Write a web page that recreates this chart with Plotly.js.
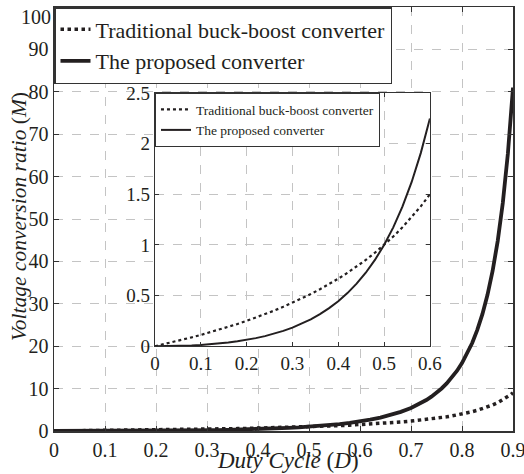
<!DOCTYPE html>
<html>
<head>
<meta charset="utf-8">
<script src="https://cdn.plot.ly/plotly-3.0.1.min.js"></script>
<style>html,body{margin:0;padding:0;background:#fff;}#chart{width:524px;height:474px;}</style>
</head>
<body>
<div id="chart"></div>
<script>
const dutyCycle = [0,0.02,0.04,0.06,0.08,0.1,0.12,0.14,0.16,0.18,0.2,0.22,0.24,0.26,0.28,0.3,0.32,0.34,0.36,0.38,0.4,0.42,0.44,0.46,0.48,0.5,0.52,0.54,0.56,0.58,0.6,0.62,0.64,0.66,0.68,0.7,0.71,0.72,0.73,0.74,0.75,0.76,0.77,0.78,0.79,0.8,0.81,0.82,0.83,0.84,0.85,0.86,0.87,0.88,0.89,0.895,0.9];
const traditional = [0,0.0204,0.0417,0.0638,0.087,0.1111,0.1364,0.1628,0.1905,0.2195,0.25,0.2821,0.3158,0.3514,0.3889,0.4286,0.4706,0.5152,0.5625,0.6129,0.6667,0.7241,0.7857,0.8519,0.9231,1,1.0833,1.1739,1.2727,1.381,1.5,1.6316,1.7778,1.9412,2.125,2.3333,2.4483,2.5714,2.7037,2.8462,3,3.1667,3.3478,3.5455,3.7619,4,4.2632,4.5556,4.8824,5.25,5.6667,6.1429,6.6923,7.3333,8.0909,8.5238,9];
const proposed = [0,0.0004,0.0017,0.0041,0.0076,0.0123,0.0186,0.0265,0.0363,0.0482,0.0625,0.0796,0.0997,0.1234,0.1512,0.1837,0.2215,0.2654,0.3164,0.3757,0.4444,0.5244,0.6173,0.7257,0.8521,1,1.1736,1.3781,1.6198,1.907,2.25,2.6621,3.1605,3.7682,4.5156,5.4444,5.994,6.612,7.31,8.101,9,10.028,11.208,12.57,14.152,16,18.175,20.753,23.84,27.5625,32.11,37.735,44.79,53.778,65.46,72.655,81];
const insetX = dutyCycle.filter(d => d <= 0.6);
const n = insetX.length;
const seriesNames = ['Traditional buck-boost converter', 'The proposed converter'];
const xTitle = '<i>Duty Cycle</i> (<i>D</i>)';
const yTitle = '<i>Voltage conversion ratio</i> (<i>M</i>)';
const mainXTicks = [0,0.1,0.2,0.3,0.4,0.5,0.6,0.7,0.8,0.9];
const mainYTicks = [0,10,20,30,40,50,60,70,80,90,100];
const insetXTicks = [0,0.1,0.2,0.3,0.4,0.5,0.6];
const insetYTicks = [0,0.5,1,1.5,2,2.5];

const serif = '"Liberation Serif", "Times New Roman", serif';
const ink = '#231f20';

const traces = [
  {x: dutyCycle, y: traditional, name: seriesNames[0], mode: 'lines', xaxis: 'x', yaxis: 'y',
   line: {color: ink, width: 3.5, dash: 'dot'}, legend: 'legend'},
  {x: dutyCycle, y: proposed, name: seriesNames[1], mode: 'lines', xaxis: 'x', yaxis: 'y',
   line: {color: ink, width: 3.8}, legend: 'legend'},
  {x: insetX, y: traditional.slice(0, n), name: seriesNames[0], mode: 'lines', xaxis: 'x2', yaxis: 'y2',
   line: {color: ink, width: 2.2, dash: 'dot'}, legend: 'legend2'},
  {x: insetX, y: proposed.slice(0, n), name: seriesNames[1], mode: 'lines', xaxis: 'x2', yaxis: 'y2',
   line: {color: ink, width: 2}, legend: 'legend2'}
];

const axisCommon = {
  showline: true, linecolor: '#333', linewidth: 1.5, mirror: 'ticks',
  ticks: 'inside', ticklen: 5, tickcolor: '#333',
  showgrid: true, gridcolor: '#c4c4c4', griddash: 'dash', gridwidth: 1,
  zeroline: false, tickfont: {family: serif, size: 20, color: ink},
  ticklabeloverflow: 'allow'
};

// top label of the main y axis sits a little lower in the reference (figure cropped at the top)
const topY = mainYTicks[mainYTicks.length - 1];
const mainYText = mainYTicks.map(v => v === topY ? '' : String(v));

const layout = {
  width: 524, height: 474,
  margin: {l: 54, r: 11, t: 7, b: 43},
  paper_bgcolor: '#fff', plot_bgcolor: '#fff',
  font: {family: serif, color: ink},
  xaxis: Object.assign({}, axisCommon, {
    domain: [0, 1], range: [0, 0.9], tickvals: mainXTicks, ticktext: mainXTicks.map(String)
  }),
  yaxis: Object.assign({}, axisCommon, {
    domain: [0, 1], range: [0, 100], tickvals: mainYTicks, ticktext: mainYText
  }),
  xaxis2: Object.assign({}, axisCommon, {
    domain: [0.22, 0.819], anchor: 'y2', range: [0, 0.6], tickvals: insetXTicks, ticktext: insetXTicks.map(String),
    tickfont: {family: serif, size: 19, color: ink}, linewidth: 1.2, ticklen: 4
  }),
  yaxis2: Object.assign({}, axisCommon, {
    domain: [0.2, 0.797], anchor: 'x2', range: [0, 2.5], tickvals: insetYTicks, ticktext: insetYTicks.map(String),
    tickfont: {family: serif, size: 19, color: ink}, linewidth: 1.2, ticklen: 4
  }),
  annotations: [
    {text: String(topY), xref: 'paper', yref: 'y', x: 0, y: topY, xanchor: 'right', yanchor: 'top',
     xshift: -1, yshift: 3, showarrow: false, font: {family: serif, size: 20, color: ink}},
    {text: xTitle, xref: 'paper', yref: 'paper', x: 0.51, y: 0, xanchor: 'center', yanchor: 'top',
     yshift: -15, showarrow: false, font: {family: serif, size: 23, color: ink}},
    {text: yTitle, xref: 'paper', yref: 'paper', x: 0, y: 0.5, xanchor: 'center', yanchor: 'middle',
     xshift: -35, yshift: 2, textangle: -90, showarrow: false, font: {family: serif, size: 21.5, color: ink}}
  ],
  legend: {
    x: 0, y: 1, xref: 'paper', yref: 'paper', xanchor: 'left', yanchor: 'top',
    bgcolor: '#fff', bordercolor: '#333', borderwidth: 1.5,
    font: {family: serif, size: 22, color: ink}, itemwidth: 30, tracegroupgap: 0
  },
  legend2: {
    x: 0.22, y: 0.797, xref: 'paper', yref: 'paper', xanchor: 'left', yanchor: 'top',
    bgcolor: '#fff', bordercolor: '#333', borderwidth: 1,
    font: {family: serif, size: 13.5, color: ink}, itemwidth: 30, tracegroupgap: 0
  },
  showlegend: true
};

Plotly.newPlot('chart', traces, layout, {displayModeBar: false, staticPlot: true});
</script>
</body>
</html>
